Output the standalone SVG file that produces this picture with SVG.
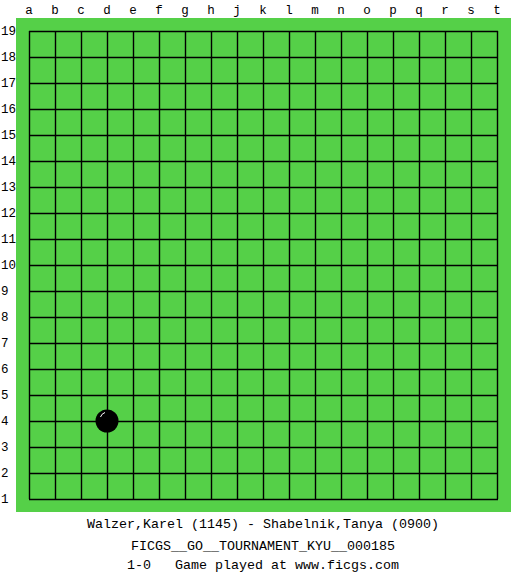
<svg xmlns="http://www.w3.org/2000/svg" width="525" height="575" viewBox="0 0 525 575">
<style>
.lbl{font-family:"Liberation Mono","DejaVu Sans Mono",monospace;font-size:12.5px;fill:#000}
.cap{font-family:"Liberation Mono","DejaVu Sans Mono",monospace;font-size:13.33px;fill:#000;text-anchor:middle;white-space:pre}
.g line{stroke:#000;stroke-width:1.4}
</style>
<rect width="525" height="575" fill="#fff"/>
<g id="board">
<rect x="16" y="18" width="495" height="494" fill="#55d048"/>
</g>
<g id="grid" class="g">
<line x1="29.5" y1="31" x2="29.5" y2="499"/><line x1="55.5" y1="31" x2="55.5" y2="499"/><line x1="81.5" y1="31" x2="81.5" y2="499"/><line x1="107.5" y1="31" x2="107.5" y2="499"/><line x1="133.5" y1="31" x2="133.5" y2="499"/><line x1="159.5" y1="31" x2="159.5" y2="499"/><line x1="185.5" y1="31" x2="185.5" y2="499"/><line x1="211.5" y1="31" x2="211.5" y2="499"/><line x1="237.5" y1="31" x2="237.5" y2="499"/><line x1="263.5" y1="31" x2="263.5" y2="499"/><line x1="289.5" y1="31" x2="289.5" y2="499"/><line x1="315.5" y1="31" x2="315.5" y2="499"/><line x1="341.5" y1="31" x2="341.5" y2="499"/><line x1="367.5" y1="31" x2="367.5" y2="499"/><line x1="393.5" y1="31" x2="393.5" y2="499"/><line x1="419.5" y1="31" x2="419.5" y2="499"/><line x1="445.5" y1="31" x2="445.5" y2="499"/><line x1="471.5" y1="31" x2="471.5" y2="499"/><line x1="497.5" y1="31" x2="497.5" y2="499"/>
<line x1="29" y1="31.5" x2="498" y2="31.5"/><line x1="29" y1="57.5" x2="498" y2="57.5"/><line x1="29" y1="83.5" x2="498" y2="83.5"/><line x1="29" y1="109.5" x2="498" y2="109.5"/><line x1="29" y1="135.5" x2="498" y2="135.5"/><line x1="29" y1="161.5" x2="498" y2="161.5"/><line x1="29" y1="187.5" x2="498" y2="187.5"/><line x1="29" y1="213.5" x2="498" y2="213.5"/><line x1="29" y1="239.5" x2="498" y2="239.5"/><line x1="29" y1="265.5" x2="498" y2="265.5"/><line x1="29" y1="291.5" x2="498" y2="291.5"/><line x1="29" y1="317.5" x2="498" y2="317.5"/><line x1="29" y1="343.5" x2="498" y2="343.5"/><line x1="29" y1="369.5" x2="498" y2="369.5"/><line x1="29" y1="395.5" x2="498" y2="395.5"/><line x1="29" y1="421.5" x2="498" y2="421.5"/><line x1="29" y1="447.5" x2="498" y2="447.5"/><line x1="29" y1="473.5" x2="498" y2="473.5"/><line x1="29" y1="499.5" x2="498" y2="499.5"/>
</g>
<g id="col-labels" class="lbl" text-anchor="middle">
<text x="29" y="14">a</text><text x="55" y="14">b</text><text x="81" y="14">c</text><text x="107" y="14">d</text><text x="133" y="14">e</text><text x="159" y="14">f</text><text x="185" y="14">g</text><text x="211" y="14">h</text><text x="237" y="14">j</text><text x="263" y="14">k</text><text x="289" y="14">l</text><text x="315" y="14">m</text><text x="341" y="14">n</text><text x="367" y="14">o</text><text x="393" y="14">p</text><text x="419" y="14">q</text><text x="445" y="14">r</text><text x="471" y="14">s</text><text x="497" y="14">t</text>
</g>
<g id="row-labels" class="lbl">
<text x="1" y="35">19</text><text x="1" y="61">18</text><text x="1" y="87">17</text><text x="1" y="113">16</text><text x="1" y="139">15</text><text x="1" y="165">14</text><text x="1" y="191">13</text><text x="1" y="217">12</text><text x="1" y="243">11</text><text x="1" y="269">10</text><text x="1" y="295">9</text><text x="1" y="321">8</text><text x="1" y="347">7</text><text x="1" y="373">6</text><text x="1" y="399">5</text><text x="1" y="425">4</text><text x="1" y="451">3</text><text x="1" y="477">2</text><text x="1" y="503">1</text>
</g>
<g id="stone-d4">
<circle cx="107" cy="421" r="11.5" fill="#000"/>
<path d="M100.5 417 A7 7 0 0 1 105 412.5" fill="none" stroke="#fff" stroke-width="1"/>
</g>
<g id="caption">
<text class="cap" x="263" y="528">Walzer,Karel (1145) - Shabelnik,Tanya (0900)</text>
<text class="cap" x="263" y="550">FICGS__GO__TOURNAMENT_KYU__000185</text>
<text class="cap" x="263" y="569" xml:space="preserve">1-0   Game played at www.ficgs.com</text>
</g>
</svg>
